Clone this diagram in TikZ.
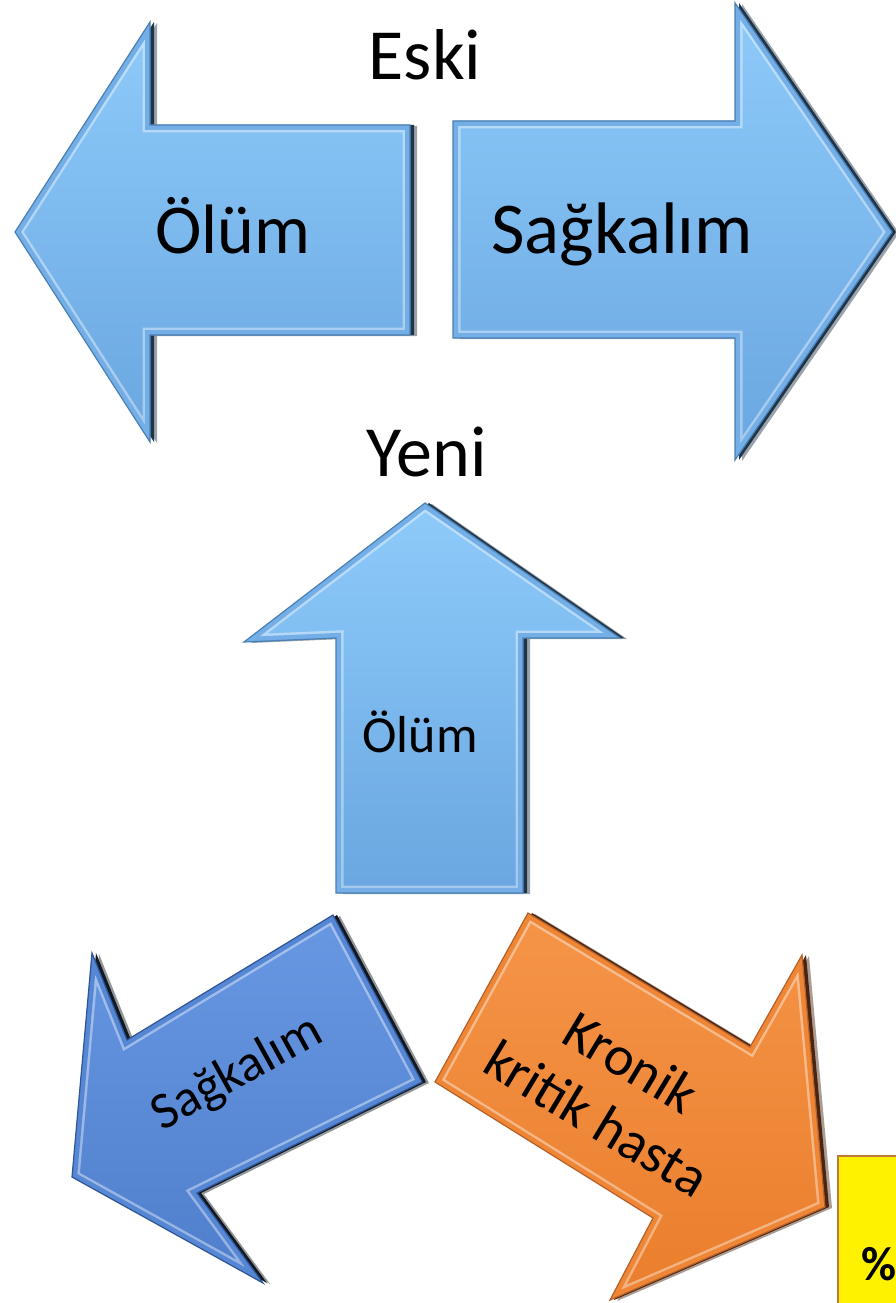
\documentclass[tikz,border=0pt]{standalone}
\usepackage{fontspec}
\setmainfont{Carlito}
\begin{document}
\begin{tikzpicture}[x=1pt,y=-1pt,
  lbl/.style={inner sep=0pt,anchor=base,text=black},
  pct/.style={inner sep=0pt,anchor=base west,font=\fontsize{48}{50}\selectfont\bfseries}]
\useasboundingbox (0,0) rectangle (896,1303);
\clip (0,0) rectangle (896,1303);
\newcommand\bevelarrow[6]{%
  \fill[#2,opacity=.45] [xshift=7pt,yshift=-1pt] #1;
  \fill[#2] [xshift=4pt] #1;
  \shade[top color=#3,bottom color=#4] #1;
  \begin{scope}
    \clip #1;
    \draw[white,opacity=.4,line width=15pt,line join=miter] #1;
    \draw[#5,line width=10pt,line join=miter] #1;
  \end{scope}
  \draw[#6,line width=1.2pt,line join=miter] #1;
}
\definecolor{sky1}{HTML}{8ECBFA}
\definecolor{sky2}{HTML}{6AA6E0}
\definecolor{skyband}{HTML}{74AEE6}
\definecolor{skyedge}{HTML}{4A80B4}
\definecolor{skyshadow}{HTML}{1F3447}
\definecolor{royal1}{HTML}{6898E2}
\definecolor{royal2}{HTML}{4F7FCC}
\definecolor{royalband}{HTML}{5687D4}
\definecolor{royaledge}{HTML}{2F5597}
\definecolor{royalshadow}{HTML}{111820}
\definecolor{orng1}{HTML}{F59448}
\definecolor{orng2}{HTML}{EA7E2C}
\definecolor{orngband}{HTML}{EF8636}
\definecolor{orngedge}{HTML}{B5602A}
\definecolor{orngshadow}{HTML}{4A2410}
\definecolor{boxedge}{HTML}{C0783A}
% top left arrow
\bevelarrow{(15,232) -- (150,22) -- (150,125) -- (410,125) -- (410,335) -- (150,335) -- (150,442) -- cycle}{skyshadow}{sky1}{sky2}{skyband}{skyedge}
% top right arrow
\bevelarrow{(453,121) -- (735,121) -- (735,3) -- (892,232) -- (735,460) -- (735,338) -- (453,338) -- cycle}{skyshadow}{sky1}{sky2}{skyband}{skyedge}
% up arrow
\bevelarrow{(425,503) -- (620,638) -- (523,638) -- (523,893) -- (336,893) -- (336,638) -- (244,642) -- cycle}{skyshadow}{sky1}{sky2}{skyband}{skyedge}
% bottom left arrow
\bevelarrow{(333,915) -- (422,1082) -- (197,1193) -- (263,1283) -- (72,1177) -- (92,953) -- (127,1040) -- cycle}{royalshadow}{royal1}{royal2}{royalband}{royaledge}
% bottom right arrow
\bevelarrow{(528,913) -- (750,1047) -- (802,955) -- (825,1207) -- (610,1300) -- (653,1218) -- (435,1082) -- cycle}{orngshadow}{orng1}{orng2}{orngband}{orngedge}
% yellow box
\fill[yellow] (838,1156) rectangle (900,1310);
\draw[boxedge,line width=2pt] (838,1310) -- (838,1156) -- (900,1156);
% texts
\node[lbl,font=\fontsize{72}{80}\selectfont] (eski) at (425,80) {Eski};
\node[lbl,font=\fontsize{72}{80}\selectfont] (yeni) at (427,476) {Yeni};
\node[lbl,font=\fontsize{70}{80}\selectfont] (olum1) at (233,253) {Ölüm};
\node[lbl,font=\fontsize{73}{80}\selectfont] (sag1) at (622,253) {Sağkalım};
\node[lbl,font=\fontsize{52}{60}\selectfont] (olum2) at (420,752) {Ölüm};
\node[lbl,font=\fontsize{52}{60}\selectfont,rotate=29] (sag2) at (244,1086) {Sağkalım};
\node[inner sep=0pt,align=center,font=\fontsize{56}{66}\selectfont,rotate=-31] (kronik) at (614,1090) {Kronik\\kritik hasta};
\node[pct] (pc) at (861,1280) {\%};
\end{tikzpicture}
\end{document}
